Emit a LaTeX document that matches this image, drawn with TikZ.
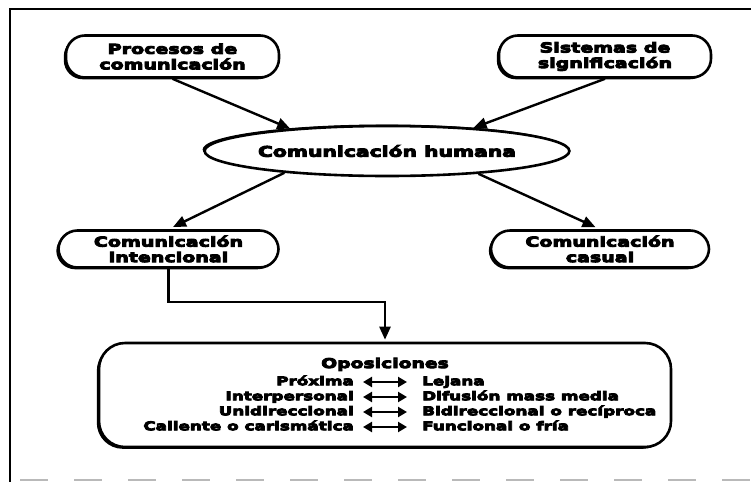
\documentclass[tikz,border=0pt]{standalone}
\usepackage{fontspec}
\setmainfont{DejaVu Sans}
\newfontfamily\heavy[FakeStretch=1.4,FakeBold=7]{DejaVu Sans Bold}
\usetikzlibrary{shapes.geometric,arrows.meta,shadows}
\begin{document}
\begin{tikzpicture}[x=1pt,y=-1pt,
  txt/.style={font=\heavy\fontsize{12}{15}\selectfont},
  btxt/.style={font=\heavy\fontsize{13.6}{15.5}\selectfont},
  rbox/.style={draw, line width=2.6pt, fill=white, rounded corners=19pt, align=center, inner sep=0pt,
    btxt, drop shadow={shadow xshift=-2.2pt, shadow yshift=-1.8pt, fill=black, opacity=1}},
  oval/.style={draw, ellipse, line width=2.6pt, fill=white, inner sep=0pt,
    font=\heavy\fontsize{14.5}{15}\selectfont,
    drop shadow={shadow xshift=-2pt, shadow yshift=1.5pt, fill=black, opacity=1}},
  arr/.style={line width=2.4pt, -{Triangle[length=13pt,width=11pt]}},
  dbl/.style={line width=2.2pt, {Triangle[length=9pt,width=10pt]}-{Triangle[length=9pt,width=10pt]}},
  lt/.style={txt, inner sep=0pt, text height=9pt, text depth=2.5pt, anchor=east},
  rt/.style={txt, inner sep=0pt, text height=9pt, text depth=2.5pt, anchor=west}
]
\useasboundingbox (0,0) rectangle (751,482);
\fill[white] (0,0) rectangle (751,482);
% frame
\draw[line width=2.6pt] (751,9) -- (10,9) -- (10,482);
\draw[gray!55, line width=1.5pt, dash pattern=on 28pt off 26pt] (20,480) -- (751,480);

% nodes
\node[rbox, minimum width=213pt, minimum height=42pt] (proc) at (172.5,56.5) {Procesos de\\comunicación};
\node[rbox, minimum width=212pt, minimum height=42pt] (sys) at (605,56.5) {Sistemas de\\significación};
\node[oval, minimum width=362pt, minimum height=50pt] (hum) at (387,151) {Comunicación humana};
\node[rbox, minimum width=220pt, minimum height=37pt] (int) at (168.5,249) {Comunicación\\intencional};
\node[rbox, minimum width=218pt, minimum height=37pt] (cas) at (600,249) {Comunicación\\casual};
\node[rbox, rounded corners=26pt, minimum width=572pt, minimum height=104pt] (opo) at (385,395) {};

% contents of Oposiciones
\node[font=\heavy\fontsize{13.4}{15}\selectfont, inner sep=0pt, anchor=base] (tit) at (385,368) {Oposiciones};
\node[lt] (l1) at (354,382) {Próxima};
\node[rt] (r1) at (422,382) {Lejana};
\node[lt] (l2) at (354,397) {Interpersonal};
\node[rt] (r2) at (422,397) {Difusión mass media};
\node[lt] (l3) at (354,412) {Unidireccional};
\node[rt] (r3) at (422,412) {Bidireccional o recíproca};
\node[lt] (l4) at (354,427) {Caliente o carismática};
\node[rt] (r4) at (422,427) {Funcional o fría};
\foreach \i in {1,...,4}{
  \draw[dbl, shorten <=9pt, shorten >=15pt] (l\i.east) -- (r\i.west);
}

% connectors
\draw[arr] (proc.south) -- (hum.167);
\draw[arr] (sys.south) -- (hum.15);
\draw[arr, shorten >=5pt] (hum.192) -- (int.north);
\draw[arr, shorten >=5pt] (hum.-14) -- (cas.north);
\draw[arr, shorten >=2pt] (int.south) -- ++(0,33) -| (opo.north);
\end{tikzpicture}
\end{document}
